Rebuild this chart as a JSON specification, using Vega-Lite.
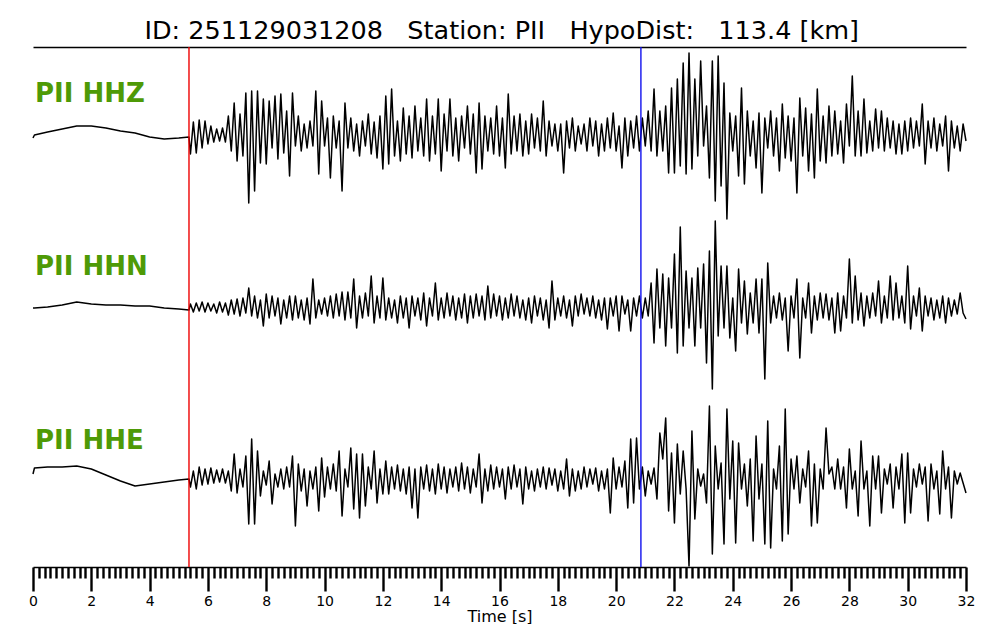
{
"$schema": "https://vega.github.io/schema/vega-lite/v6.json",
"background": "white",
"bounds": "flush",
"padding": {"left": 28, "top": 18, "right": 30, "bottom": 0},
"config": {"view": {"stroke": null}, "font": "DejaVu Sans"},
"title": {"text": "ID: 251129031208\u00a0\u00a0 Station: PII\u00a0\u00a0 HypoDist:\u00a0\u00a0 113.4 [km]", "font": "DejaVu Sans", "fontSize": 25.5, "fontWeight": "normal", "color": "black", "anchor": "middle", "offset": 2},
"spacing": 0,
"datasets": {"w": [
{"t":0,"z":-2,"n":0,"e":5},{"t":0.05,"z":1,"n":0,"e":11},{"t":0.5,"z":4,"n":1,"e":12},{"t":1,"z":7,"n":3,"e":12},{"t":1.5,"z":10,"n":6,"e":13},{"t":2,"z":10,"n":4,"e":10},{"t":2.5,"z":8,"n":3,"e":4},{"t":3,"z":5,"n":3,"e":-2},{"t":3.5,"z":3,"n":2,"e":-7},{"t":4,"z":-1,"n":2,"e":-5},{"t":4.5,"z":-3,"n":0,"e":-3},{"t":5,"z":-2,"n":-1,"e":-1},{"t":5.35,"z":-1,"n":-2,"e":0},
{"t":5.4,"z":-18,"n":4,"e":-8},{"t":5.5,"z":14,"n":-4,"e":8},{"t":5.6,"z":-17,"n":5,"e":-10},{"t":5.7,"z":16,"n":-3,"e":12},{"t":5.8,"z":-12,"n":6,"e":-6},{"t":5.9,"z":15,"n":-4,"e":10},
{"t":6.0,"z":-8,"n":5,"e":-5},{"t":6.1,"z":10,"n":-3,"e":11},{"t":6.2,"z":-6,"n":4,"e":-4},{"t":6.3,"z":7,"n":-5,"e":9},{"t":6.4,"z":-5,"n":6,"e":-3},{"t":6.5,"z":8,"n":-4,"e":10},{"t":6.6,"z":-6,"n":5,"e":-4},{"t":6.7,"z":20,"n":-7,"e":8},{"t":6.8,"z":-15,"n":8,"e":-12},{"t":6.9,"z":33,"n":-6,"e":25},
{"t":7.0,"z":-25,"n":9,"e":-14},{"t":7.1,"z":22,"n":-8,"e":10},{"t":7.2,"z":-20,"n":10,"e":-8},{"t":7.3,"z":43,"n":-5,"e":23},{"t":7.4,"z":-67,"n":20,"e":-45},{"t":7.5,"z":45,"n":-8,"e":40},{"t":7.6,"z":-55,"n":12,"e":-45},{"t":7.7,"z":45,"n":-10,"e":28},{"t":7.8,"z":-27,"n":8,"e":-17},{"t":7.9,"z":37,"n":-18,"e":8},
{"t":8.0,"z":-28,"n":14,"e":-6},{"t":8.1,"z":35,"n":-10,"e":18},{"t":8.2,"z":-12,"n":12,"e":-25},{"t":8.3,"z":40,"n":-8,"e":5},{"t":8.4,"z":-23,"n":10,"e":-8},{"t":8.5,"z":42,"n":-16,"e":10},{"t":8.6,"z":-17,"n":8,"e":-10},{"t":8.7,"z":25,"n":-10,"e":12},{"t":8.8,"z":-40,"n":12,"e":-8},{"t":8.9,"z":43,"n":-12,"e":23},
{"t":9.0,"z":-10,"n":12,"e":-47},{"t":9.1,"z":20,"n":-10,"e":15},{"t":9.2,"z":-15,"n":8,"e":-12},{"t":9.3,"z":12,"n":-12,"e":10},{"t":9.4,"z":-12,"n":10,"e":-27},{"t":9.5,"z":15,"n":-16,"e":8},{"t":9.6,"z":-10,"n":29,"e":-10},{"t":9.7,"z":45,"n":-10,"e":12},{"t":9.8,"z":-38,"n":8,"e":-32},{"t":9.9,"z":35,"n":-6,"e":21},
{"t":10.0,"z":-10,"n":10,"e":-18},{"t":10.1,"z":18,"n":-8,"e":12},{"t":10.2,"z":-42,"n":12,"e":-10},{"t":10.3,"z":20,"n":-10,"e":15},{"t":10.4,"z":-12,"n":14,"e":-12},{"t":10.5,"z":15,"n":-8,"e":28},{"t":10.6,"z":-55,"n":16,"e":-37},{"t":10.7,"z":33,"n":-12,"e":10},{"t":10.8,"z":-12,"n":16,"e":-8},{"t":10.9,"z":18,"n":-10,"e":31},
{"t":11.0,"z":-15,"n":29,"e":-30},{"t":11.1,"z":12,"n":-20,"e":25},{"t":11.2,"z":-20,"n":12,"e":-39},{"t":11.3,"z":15,"n":-10,"e":25},{"t":11.4,"z":-10,"n":15,"e":-27},{"t":11.5,"z":22,"n":-8,"e":12},{"t":11.6,"z":-18,"n":32,"e":-10},{"t":11.7,"z":14,"n":-15,"e":28},{"t":11.8,"z":-22,"n":12,"e":-24},{"t":11.9,"z":20,"n":-10,"e":10},
{"t":12.0,"z":-33,"n":30,"e":-15},{"t":12.1,"z":40,"n":-12,"e":18},{"t":12.2,"z":-28,"n":10,"e":-15},{"t":12.3,"z":47,"n":-10,"e":12},{"t":12.4,"z":-20,"n":8,"e":-10},{"t":12.5,"z":15,"n":-15,"e":14},{"t":12.6,"z":-25,"n":12,"e":-12},{"t":12.7,"z":28,"n":-10,"e":10},{"t":12.8,"z":-18,"n":10,"e":-15},{"t":12.9,"z":20,"n":-20,"e":12},
{"t":13.0,"z":-22,"n":12,"e":-29},{"t":13.1,"z":30,"n":-8,"e":10},{"t":13.2,"z":-15,"n":10,"e":-39},{"t":13.3,"z":18,"n":-12,"e":12},{"t":13.4,"z":-20,"n":15,"e":-10},{"t":13.5,"z":37,"n":-18,"e":14},{"t":13.6,"z":-25,"n":10,"e":-12},{"t":13.7,"z":20,"n":-8,"e":10},{"t":13.8,"z":-18,"n":25,"e":-15},{"t":13.9,"z":37,"n":-12,"e":15},
{"t":14.0,"z":-35,"n":10,"e":-10},{"t":14.1,"z":22,"n":-10,"e":12},{"t":14.2,"z":-15,"n":15,"e":-14},{"t":14.3,"z":37,"n":-8,"e":10},{"t":14.4,"z":-20,"n":12,"e":-8},{"t":14.5,"z":18,"n":-12,"e":12},{"t":14.6,"z":-25,"n":10,"e":-12},{"t":14.7,"z":20,"n":-10,"e":16},{"t":14.8,"z":-12,"n":14,"e":-10},{"t":14.9,"z":30,"n":-15,"e":12},
{"t":15.0,"z":-18,"n":12,"e":-14},{"t":15.1,"z":22,"n":-10,"e":10},{"t":15.2,"z":-37,"n":14,"e":-8},{"t":15.3,"z":33,"n":-8,"e":25},{"t":15.4,"z":-33,"n":12,"e":-24},{"t":15.5,"z":20,"n":-12,"e":10},{"t":15.6,"z":-15,"n":22,"e":-12},{"t":15.7,"z":18,"n":-10,"e":14},{"t":15.8,"z":-18,"n":14,"e":-10},{"t":15.9,"z":30,"n":-8,"e":12},
{"t":16.0,"z":-20,"n":12,"e":-8},{"t":16.1,"z":18,"n":-12,"e":10},{"t":16.2,"z":-32,"n":10,"e":-20},{"t":16.3,"z":42,"n":-10,"e":12},{"t":16.4,"z":-18,"n":14,"e":-10},{"t":16.5,"z":20,"n":-8,"e":14},{"t":16.6,"z":-15,"n":12,"e":-8},{"t":16.7,"z":22,"n":-10,"e":10},{"t":16.8,"z":-20,"n":8,"e":-25},{"t":16.9,"z":15,"n":-12,"e":12},
{"t":17.0,"z":-18,"n":10,"e":-10},{"t":17.1,"z":22,"n":-15,"e":8},{"t":17.2,"z":-12,"n":12,"e":-12},{"t":17.3,"z":18,"n":-8,"e":10},{"t":17.4,"z":-15,"n":10,"e":-8},{"t":17.5,"z":35,"n":-12,"e":12},{"t":17.6,"z":-20,"n":8,"e":-10},{"t":17.7,"z":15,"n":-20,"e":11},{"t":17.8,"z":-10,"n":27,"e":-6},{"t":17.9,"z":12,"n":-12,"e":10},
{"t":18.0,"z":-15,"n":10,"e":-12},{"t":18.1,"z":12,"n":-8,"e":8},{"t":18.2,"z":-37,"n":12,"e":-10},{"t":18.3,"z":15,"n":-10,"e":20},{"t":18.4,"z":-12,"n":8,"e":-17},{"t":18.5,"z":18,"n":-18,"e":10},{"t":18.6,"z":-15,"n":12,"e":-12},{"t":18.7,"z":10,"n":-8,"e":8},{"t":18.8,"z":-8,"n":14,"e":-10},{"t":18.9,"z":12,"n":-6,"e":12},
{"t":19.0,"z":-15,"n":10,"e":-8},{"t":19.1,"z":18,"n":-8,"e":10},{"t":19.2,"z":-10,"n":12,"e":-5},{"t":19.3,"z":15,"n":-10,"e":11},{"t":19.4,"z":-20,"n":8,"e":-12},{"t":19.5,"z":12,"n":-12,"e":8},{"t":19.6,"z":-15,"n":10,"e":-10},{"t":19.7,"z":18,"n":-21,"e":10},{"t":19.8,"z":-12,"n":10,"e":-34},{"t":19.9,"z":23,"n":-8,"e":21},
{"t":20.0,"z":-15,"n":12,"e":-10},{"t":20.1,"z":10,"n":-23,"e":12},{"t":20.2,"z":-32,"n":12,"e":-8},{"t":20.3,"z":18,"n":-6,"e":18},{"t":20.4,"z":-20,"n":8,"e":-29},{"t":20.5,"z":15,"n":-23,"e":40},{"t":20.6,"z":-12,"n":10,"e":-24},{"t":20.7,"z":20,"n":-8,"e":41},{"t":20.8,"z":-15,"n":12,"e":-10},{"t":20.9,"z":18,"n":-10,"e":12},
{"t":21.0,"z":-10,"n":10,"e":-17},{"t":21.1,"z":25,"n":-8,"e":8},{"t":21.2,"z":-15,"n":25,"e":-5},{"t":21.3,"z":47,"n":-35,"e":11},{"t":21.4,"z":-20,"n":39,"e":-20},{"t":21.5,"z":25,"n":-20,"e":46},{"t":21.6,"z":-15,"n":34,"e":20},{"t":21.7,"z":30,"n":-38,"e":61},{"t":21.8,"z":-37,"n":30,"e":-32},{"t":21.9,"z":48,"n":-20,"e":26},
{"t":22.0,"z":-37,"n":54,"e":-44},{"t":22.1,"z":57,"n":-45,"e":35},{"t":22.2,"z":-30,"n":81,"e":-15},{"t":22.3,"z":73,"n":-38,"e":28},{"t":22.4,"z":-38,"n":37,"e":-10},{"t":22.5,"z":83,"n":-20,"e":-87},{"t":22.6,"z":-33,"n":30,"e":48},{"t":22.7,"z":57,"n":-38,"e":-40},{"t":22.8,"z":-20,"n":40,"e":10},{"t":22.9,"z":75,"n":-20,"e":-7},
{"t":23.0,"z":-10,"n":44,"e":5},{"t":23.1,"z":30,"n":-55,"e":-24},{"t":23.2,"z":-42,"n":57,"e":73},{"t":23.3,"z":75,"n":-81,"e":-75},{"t":23.4,"z":-65,"n":87,"e":33},{"t":23.5,"z":80,"n":-28,"e":-10},{"t":23.6,"z":-50,"n":42,"e":16},{"t":23.7,"z":53,"n":-20,"e":-65},{"t":23.8,"z":-83,"n":42,"e":70},{"t":23.9,"z":23,"n":-30,"e":-20},
{"t":24.0,"z":-15,"n":10,"e":38},{"t":24.1,"z":20,"n":-43,"e":-64},{"t":24.2,"z":-40,"n":39,"e":36},{"t":24.3,"z":48,"n":-15,"e":-10},{"t":24.4,"z":-48,"n":27,"e":15},{"t":24.5,"z":25,"n":-26,"e":-27},{"t":24.6,"z":-20,"n":15,"e":20},{"t":24.7,"z":15,"n":-15,"e":-62},{"t":24.8,"z":-32,"n":29,"e":43},{"t":24.9,"z":23,"n":-25,"e":-20},
{"t":25.0,"z":-57,"n":29,"e":15},{"t":25.1,"z":18,"n":-71,"e":-65},{"t":25.2,"z":-12,"n":45,"e":58},{"t":25.3,"z":25,"n":-15,"e":-69},{"t":25.4,"z":-20,"n":12,"e":10},{"t":25.5,"z":18,"n":-10,"e":-10},{"t":25.6,"z":-35,"n":15,"e":33},{"t":25.7,"z":32,"n":-12,"e":-62},{"t":25.8,"z":-22,"n":10,"e":70},{"t":25.9,"z":20,"n":-43,"e":-55},
{"t":26.0,"z":-25,"n":12,"e":20},{"t":26.1,"z":18,"n":-10,"e":-10},{"t":26.2,"z":-57,"n":29,"e":23},{"t":26.3,"z":38,"n":-50,"e":-24},{"t":26.4,"z":-20,"n":10,"e":10},{"t":26.5,"z":28,"n":-10,"e":-8},{"t":26.6,"z":-35,"n":25,"e":28},{"t":26.7,"z":22,"n":-25,"e":-47},{"t":26.8,"z":-42,"n":12,"e":15},{"t":26.9,"z":47,"n":-12,"e":-44},
{"t":27.0,"z":-25,"n":15,"e":10},{"t":27.1,"z":20,"n":-10,"e":-10},{"t":27.2,"z":-27,"n":14,"e":51},{"t":27.3,"z":30,"n":-12,"e":5},{"t":27.4,"z":-20,"n":10,"e":12},{"t":27.5,"z":25,"n":-25,"e":-10},{"t":27.6,"z":-18,"n":15,"e":20},{"t":27.7,"z":15,"n":-23,"e":-10},{"t":27.8,"z":-27,"n":12,"e":12},{"t":27.9,"z":32,"n":-10,"e":-29},
{"t":28.0,"z":-10,"n":49,"e":30},{"t":28.1,"z":60,"n":-15,"e":-10},{"t":28.2,"z":-20,"n":32,"e":8},{"t":28.3,"z":25,"n":-12,"e":-37},{"t":28.4,"z":-20,"n":15,"e":38},{"t":28.5,"z":37,"n":-18,"e":-10},{"t":28.6,"z":-17,"n":12,"e":8},{"t":28.7,"z":15,"n":-10,"e":-47},{"t":28.8,"z":-15,"n":15,"e":23},{"t":28.9,"z":27,"n":-8,"e":-10},
{"t":29.0,"z":-12,"n":27,"e":23},{"t":29.1,"z":25,"n":-15,"e":-34},{"t":29.2,"z":-15,"n":12,"e":10},{"t":29.3,"z":18,"n":-10,"e":-5},{"t":29.4,"z":-12,"n":32,"e":15},{"t":29.5,"z":15,"n":-12,"e":-29},{"t":29.6,"z":-18,"n":25,"e":12},{"t":29.7,"z":12,"n":-10,"e":-10},{"t":29.8,"z":-18,"n":12,"e":25},{"t":29.9,"z":15,"n":-15,"e":-44},
{"t":30.0,"z":-15,"n":42,"e":26},{"t":30.1,"z":18,"n":-21,"e":-34},{"t":30.2,"z":-12,"n":12,"e":10},{"t":30.3,"z":15,"n":-8,"e":-8},{"t":30.4,"z":-10,"n":20,"e":15},{"t":30.5,"z":32,"n":-23,"e":-5},{"t":30.6,"z":-28,"n":12,"e":12},{"t":30.7,"z":15,"n":-8,"e":-42},{"t":30.8,"z":-12,"n":10,"e":15},{"t":30.9,"z":18,"n":-12,"e":-10},
{"t":31.0,"z":-15,"n":8,"e":8},{"t":31.1,"z":12,"n":-10,"e":-35},{"t":31.2,"z":-10,"n":12,"e":28},{"t":31.3,"z":20,"n":-15,"e":-10},{"t":31.4,"z":-35,"n":10,"e":12},{"t":31.5,"z":15,"n":-8,"e":-39},{"t":31.6,"z":-12,"n":8,"e":8},{"t":31.7,"z":10,"n":-6,"e":-5},{"t":31.8,"z":-15,"n":15,"e":6},{"t":31.9,"z":12,"n":-5,"e":-4},
{"t":32.0,"z":-5,"n":-11,"e":-14}
]},
"vconcat": [
{
"width": 933, "height": 173,
"layer": [
{"data": {"name": "w"}, "mark": {"type": "line", "color": "black", "strokeWidth": 1.5, "strokeJoin": "round"},
 "encoding": {
  "x": {"field": "t", "type": "quantitative", "scale": {"domain": [0, 32], "nice": false, "zero": false},
        "axis": {"orient": "top", "ticks": false, "labels": false, "title": null, "grid": false, "domainColor": "black", "domainWidth": 1.5}},
  "y": {"field": "z", "type": "quantitative", "scale": {"domain": [-84, 89], "nice": false, "zero": false}, "axis": null}}},
{"data": {"values": [{}]}, "mark": {"type": "rule", "color": "#ee0000", "strokeWidth": 1.4}, "encoding": {"x": {"datum": 5.35}}},
{"data": {"values": [{}]}, "mark": {"type": "rule", "color": "#1010ee", "strokeWidth": 1.4}, "encoding": {"x": {"datum": 20.85}}},
{"data": {"values": [{}]}, "mark": {"type": "text", "text": "PII HHZ", "align": "left", "baseline": "alphabetic", "font": "DejaVu Sans", "fontWeight": "bold", "fontSize": 26, "color": "#4e9a06", "dx": 2},
 "encoding": {"x": {"datum": 0}, "y": {"datum": 34}}}
]
},
{
"width": 933, "height": 174,
"layer": [
{"data": {"name": "w"}, "mark": {"type": "line", "color": "black", "strokeWidth": 1.5, "strokeJoin": "round"},
 "encoding": {
  "x": {"field": "t", "type": "quantitative", "scale": {"domain": [0, 32], "nice": false, "zero": false}, "axis": null},
  "y": {"field": "n", "type": "quantitative", "scale": {"domain": [-86, 88], "nice": false, "zero": false}, "axis": null}}},
{"data": {"values": [{}]}, "mark": {"type": "rule", "color": "#ee0000", "strokeWidth": 1.4}, "encoding": {"x": {"datum": 5.35}}},
{"data": {"values": [{}]}, "mark": {"type": "rule", "color": "#1010ee", "strokeWidth": 1.4}, "encoding": {"x": {"datum": 20.85}}},
{"data": {"values": [{}]}, "mark": {"type": "text", "text": "PII HHN", "align": "left", "baseline": "alphabetic", "font": "DejaVu Sans", "fontWeight": "bold", "fontSize": 26, "color": "#4e9a06", "dx": 2},
 "encoding": {"x": {"datum": 0}, "y": {"datum": 33}}}
]
},
{
"width": 933, "height": 173,
"layer": [
{"data": {"name": "w"}, "mark": {"type": "line", "color": "black", "strokeWidth": 1.5, "strokeJoin": "round"},
 "encoding": {
  "x": {"field": "t", "type": "quantitative", "scale": {"domain": [0, 32], "nice": false, "zero": false},
        "axis": {"orient": "bottom", "tickCount": 400,
          "values": [0,0.2,0.4,0.6,0.8,1,1.2,1.4,1.6,1.8,2,2.2,2.4,2.6,2.8,3,3.2,3.4,3.6,3.8,4,4.2,4.4,4.6,4.8,5,5.2,5.4,5.6,5.8,6,6.2,6.4,6.6,6.8,7,7.2,7.4,7.6,7.8,8,8.2,8.4,8.6,8.8,9,9.2,9.4,9.6,9.8,10,10.2,10.4,10.6,10.8,11,11.2,11.4,11.6,11.8,12,12.2,12.4,12.6,12.8,13,13.2,13.4,13.6,13.8,14,14.2,14.4,14.6,14.8,15,15.2,15.4,15.6,15.8,16,16.2,16.4,16.6,16.8,17,17.2,17.4,17.6,17.8,18,18.2,18.4,18.6,18.8,19,19.2,19.4,19.6,19.8,20,20.2,20.4,20.6,20.8,21,21.2,21.4,21.6,21.8,22,22.2,22.4,22.6,22.8,23,23.2,23.4,23.6,23.8,24,24.2,24.4,24.6,24.8,25,25.2,25.4,25.6,25.8,26,26.2,26.4,26.6,26.8,27,27.2,27.4,27.6,27.8,28,28.2,28.4,28.6,28.8,29,29.2,29.4,29.6,29.8,30,30.2,30.4,30.6,30.8,31,31.2,31.4,31.6,31.8,32],
          "tickSize": {"condition": {"test": "abs(datum.value / 2 - round(datum.value / 2)) < 0.001", "value": 24}, "value": 11},
          "tickWidth": 2.4, "tickColor": "black", "tickCap": "butt",
          "domainColor": "black", "domainWidth": 1.6,
          "labelExpr": "abs(datum.value / 2 - round(datum.value / 2)) < 0.001 ? format(datum.value, 'd') : ''",
          "labelFont": "DejaVu Sans", "labelFontSize": 14, "labelColor": "black", "labelPadding": 3, "labelOverlap": false, "labelFlush": false,
          "title": "Time [s]", "titleFont": "DejaVu Sans", "titleFontSize": 16, "titleFontWeight": "normal", "titleColor": "black", "titlePadding": 0, "grid": false}},
  "y": {"field": "e", "type": "quantitative", "scale": {"domain": [-88, 85], "nice": false, "zero": false}, "axis": null}}},
{"data": {"values": [{}]}, "mark": {"type": "rule", "color": "#ee0000", "strokeWidth": 1.4}, "encoding": {"x": {"datum": 5.35}}},
{"data": {"values": [{}]}, "mark": {"type": "rule", "color": "#1010ee", "strokeWidth": 1.4}, "encoding": {"x": {"datum": 20.85}}},
{"data": {"values": [{}]}, "mark": {"type": "text", "text": "PII HHE", "align": "left", "baseline": "alphabetic", "font": "DejaVu Sans", "fontWeight": "bold", "fontSize": 26, "color": "#4e9a06", "dx": 2},
 "encoding": {"x": {"datum": 0}, "y": {"datum": 30}}}
]
}
]
}
